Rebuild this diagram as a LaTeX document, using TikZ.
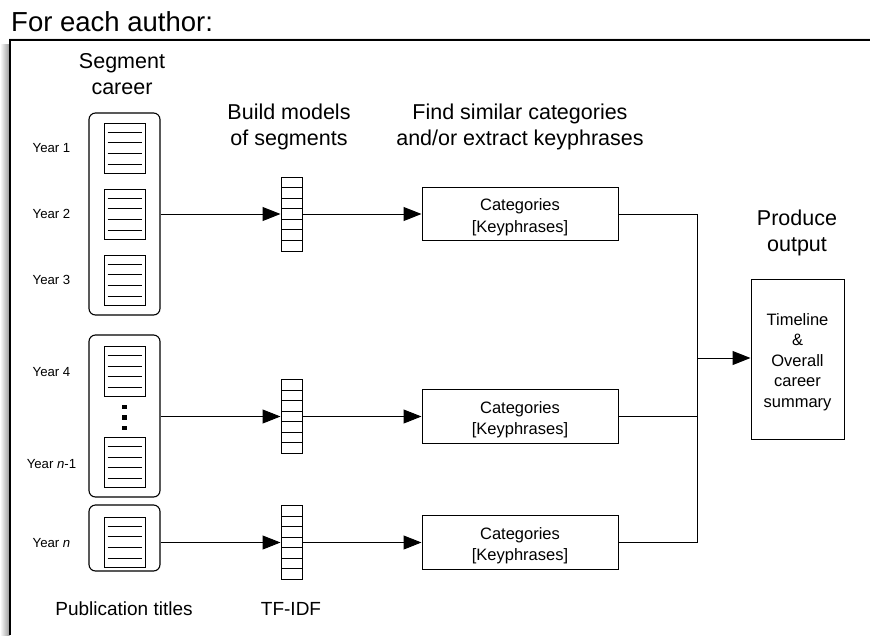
\documentclass[tikz,border=0pt]{standalone}
\usepackage{fontspec}
\setmainfont{Liberation Sans}
\usetikzlibrary{arrows.meta}
\begin{document}
\begin{tikzpicture}[x=1pt,y=-1pt,
  every node/.style={inner sep=0pt},
  big/.style={font=\fontsize{21.5}{26}\selectfont, align=center},
  small/.style={font=\fontsize{13.2}{16}\selectfont},
  mid/.style={font=\fontsize{16.5}{21.5}\selectfont, align=center},
  grp/.style={draw, line width=1.1pt, rounded corners=6.5pt, minimum width=71pt},
  docbox/.style={draw, line width=1pt, minimum width=41pt, minimum height=50pt,
    path picture={\foreach \k in {0,1,2,3}{\draw[line width=1pt] ([xshift=3.5pt,yshift={-9pt-\k*10.7pt}]path picture bounding box.north west) -- ++(34pt,0pt);}}},
  vecbox/.style={draw, line width=1pt, minimum width=21pt, minimum height=74pt,
    path picture={\foreach \k in {1,...,6}{\draw[line width=0.9pt] ([yshift={-\k*10.57pt}]path picture bounding box.north west) -- ++(21pt,0pt);}}},
  catbox/.style={draw, line width=1pt, minimum width=196pt, minimum height=53.5pt},
  conn/.style={line width=1pt},
  arr/.style={line width=1pt, -{Triangle[length=18pt,width=14pt]}}
]
\useasboundingbox (0,0) rectangle (870,635);
\shade[left color=white, right color=black!40] (0,44) rectangle (9.5,635);
\shade[top color=white, bottom color=black!20] (9.5,37) rectangle (870,40);
\fill[white] (10,40) rectangle (870,635);
\draw[line width=1.3pt] (10,635) -- (10,40) -- (870,40);

\node[anchor=base west, font=\fontsize{27.5}{30}\selectfont] (title) at (11,31) {For each author:};

% headings
\node[big] (h1) at (122,74.5) {Segment\\career};
\node[big] (h2) at (289,126.5) {Build models\\of segments};
\node[big] (h3) at (520,126.5) {Find similar categories\\and/or extract keyphrases};
\node[big] (h4) at (797,232.5) {Produce\\output};
\node[font=\fontsize{19}{22}\selectfont] (f1) at (124,609) {Publication titles};
\node[font=\fontsize{19}{22}\selectfont] (f2) at (291,609) {TF-IDF};

% group boxes
\node[grp, minimum height=202pt] (grp1) at (124.5,214) {};
\node[grp, minimum height=162pt] (grp2) at (124.5,416) {};
\node[grp, minimum height=66pt] (grp3) at (124.5,538) {};

% documents
\node[docbox] (d1) at (124.5,148) {};
\node[docbox] (d2) at (124.5,214) {};
\node[docbox] (d3) at (124.5,280) {};
\node[docbox] (d4) at (124.5,371.5) {};
\node[docbox] (d5) at (124.5,462.5) {};
\node[docbox] (d6) at (124.5,542) {};
\foreach \yy/\nm in {407/dA,417.5/dB,428/dC}{
  \node[fill=black, minimum width=4.5pt, minimum height=4.5pt] (\nm) at (124.5,\yy) {};
}

% year labels
\node[small] (y1) at (51.5,148) {Year 1};
\node[small] (y2) at (51.5,214) {Year 2};
\node[small] (y3) at (51.5,280) {Year 3};
\node[small] (y4) at (51.5,372) {Year 4};
\node[small] (y5) at (51.5,464) {Year \textit{n}-1};
\node[small] (y6) at (51.5,543) {Year \textit{n}};

% vectors
\node[vecbox] (v1) at (291.5,214) {};
\node[vecbox] (v2) at (291.5,416.5) {};
\node[vecbox] (v3) at (291.5,542.5) {};

% categories
\node[catbox] (c1) at (520,214) {};
\node[catbox] (c2) at (520,416.5) {};
\node[catbox] (c3) at (520,542.5) {};
\node[mid] (t1) at (520,217) {Categories\\{[}Keyphrases{]}};
\node[mid] (t2) at (520,419.5) {Categories\\{[}Keyphrases{]}};
\node[mid] (t3) at (520,545.5) {Categories\\{[}Keyphrases{]}};

% output
\node[draw, line width=1pt, minimum width=93pt, minimum height=160pt] (out) at (797.5,359) {};
\node[font=\fontsize{16.5}{20.5}\selectfont, align=center] (outt) at (797.5,362) {Timeline\\\&\\Overall\\career\\summary};

\coordinate (bus) at (697,358);

% connectors
\draw[arr] (grp1.east |- v1) -- (v1.west);
\draw[arr] (grp2.east |- v2) -- (v2.west);
\draw[arr] (grp3.east |- v3) -- (v3.west);
\draw[arr] (v1.east) -- (c1.west);
\draw[arr] (v2.east) -- (c2.west);
\draw[arr] (v3.east) -- (c3.west);
\draw[conn] (c1.east) -- (c1.east -| bus) -- (c3.east -| bus) -- (c3.east);
\draw[conn] (c2.east) -- (c2.east -| bus);
\draw[arr] (bus) -- (out.west |- bus);
\end{tikzpicture}
\end{document}
